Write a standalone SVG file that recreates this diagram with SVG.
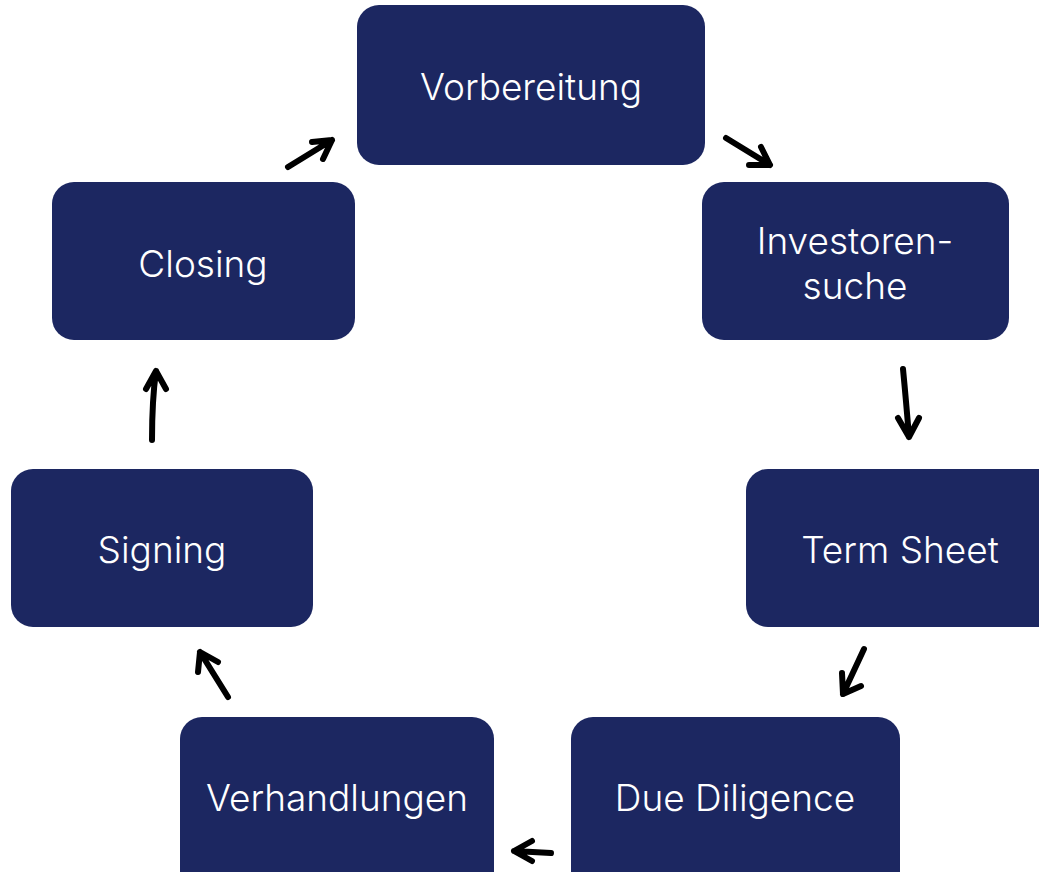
<svg xmlns="http://www.w3.org/2000/svg" width="1039" height="872" viewBox="0 0 1039 872">
<style>
.box{fill:#1c2761}
.lbl{fill:#ffffff;font-family:Inter,"Liberation Sans",sans-serif;font-size:37px;font-weight:300;text-anchor:middle}
.arr{fill:none;stroke:#000;stroke-width:6;stroke-linecap:round;stroke-linejoin:round}
</style>
<rect width="1039" height="872" fill="#ffffff"/>
<g id="vorbereitung"><rect class="box" x="357" y="5" width="348" height="160" rx="22"/><text class="lbl" x="531" y="100">Vorbereitung</text></g>
<g id="investorensuche"><rect class="box" x="702" y="182" width="307" height="158" rx="22"/><text class="lbl" x="855" y="254">Investoren-</text><text class="lbl" x="855" y="299">suche</text></g>
<g id="termsheet"><rect class="box" x="746" y="469" width="320" height="158" rx="22"/><text class="lbl" x="900" y="563">Term Sheet</text></g>
<g id="duediligence"><rect class="box" x="571" y="717" width="329" height="180" rx="22"/><text class="lbl" x="735" y="811">Due Diligence</text></g>
<g id="verhandlungen"><rect class="box" x="180" y="717" width="314" height="180" rx="22"/><text class="lbl" x="337" y="811">Verhandlungen</text></g>
<g id="signing"><rect class="box" x="11" y="469" width="302" height="158" rx="22"/><text class="lbl" x="162" y="563">Signing</text></g>
<g id="closing"><rect class="box" x="52" y="182" width="303" height="158" rx="22"/><text class="lbl" x="203" y="277">Closing</text></g>
<g id="connectors">
<path class="arr" d="M726 138 L770 165 M761 147 L770 165 L749 165"/>
<path class="arr" d="M903 369 Q906 400 909 437 M898 418 L909 437 L919 418"/>
<path class="arr" d="M864 649 L843 694 M842 673 L843 694 L861 686"/>
<path class="arr" d="M551 853 L514 851 M532 841 L514 851 L532 861"/>
<path class="arr" d="M228 697 L200 652 M198 672 L200 652 L218 662"/>
<path class="arr" d="M152 440 Q152 400 156 371 M146 389 L156 371 L166 389"/>
<path class="arr" d="M288 167 L332 140 M312 142 L332 140 L323 159"/>
</g>
</svg>
